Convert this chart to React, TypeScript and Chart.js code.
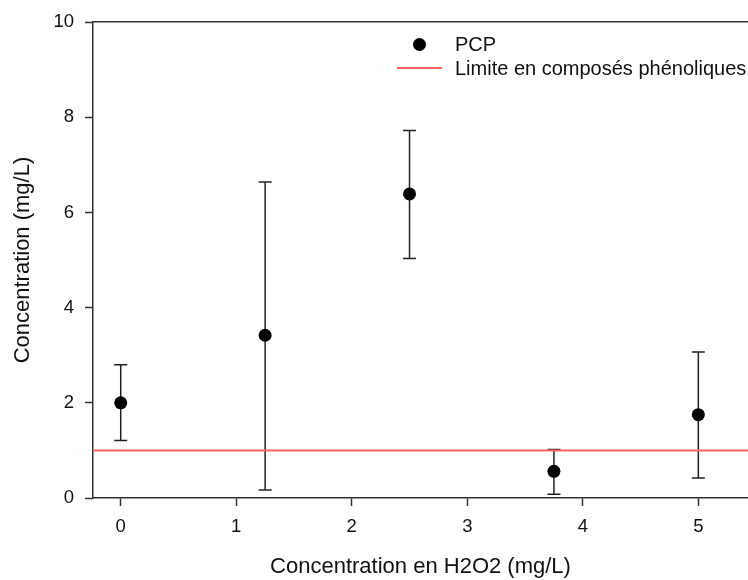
import React, { useEffect, useRef } from "react";
import { Chart, registerables } from "chart.js";

Chart.register(...registerables);

// ---- data ----
const h2o2Values = [0, 1.25, 2.5, 3.75, 5];
const pcpMeans = [2.0, 3.42, 6.39, 0.56, 1.75];
const pcpLower = [1.21, 0.17, 5.03, 0.08, 0.42];
const pcpUpper = [2.8, 6.64, 7.72, 1.02, 3.07];
const limitValue = 1;
const xTickValues = [0, 1, 2, 3, 4, 5];
const xMin = -0.24;
const xMax = 5.43;
const yMin = 0;
const yMax = 10;
const yStep = 2;
const legendLabels = ["PCP", "Limite en composés phénoliques"];

const FONT = "'Liberation Sans', Arial, sans-serif";
const AXIS_COLOR = "#333";
const RED = "#ff6262";

const errorBarPlugin = {
  id: "errorBars",
  beforeDatasetsDraw(chart: any) {
    const { ctx, scales } = chart;
    const xs = scales.x;
    const ys = scales.y;
    ctx.save();
    ctx.strokeStyle = "#222";
    ctx.lineWidth = 1.5;
    const cap = 6.5;
    for (let i = 0; i < h2o2Values.length; i++) {
      const px = xs.getPixelForValue(h2o2Values[i]);
      const pLo = ys.getPixelForValue(pcpLower[i]);
      const pHi = ys.getPixelForValue(pcpUpper[i]);
      ctx.beginPath();
      ctx.moveTo(px, pLo);
      ctx.lineTo(px, pHi);
      ctx.moveTo(px - cap, pLo);
      ctx.lineTo(px + cap, pLo);
      ctx.moveTo(px - cap, pHi);
      ctx.lineTo(px + cap, pHi);
      ctx.stroke();
    }
    ctx.restore();
  },
};

export default function App() {
  const canvasRef = useRef<HTMLCanvasElement | null>(null);

  useEffect(() => {
    if (!canvasRef.current) return;
    const chart = new Chart(canvasRef.current, {
      type: "scatter",
      data: {
        datasets: [
          {
            label: legendLabels[0],
            data: h2o2Values.map((x, i) => ({ x, y: pcpMeans[i] })),
            pointRadius: 6.5,
            pointHoverRadius: 6.5,
            pointBackgroundColor: "#000",
            pointBorderColor: "#000",
            pointBorderWidth: 0,
            showLine: false,
          },
          {
            type: "line",
            label: legendLabels[1],
            data: [
              { x: xMin, y: limitValue },
              { x: xMax, y: limitValue },
            ],
            borderColor: RED,
            borderWidth: 2,
            pointRadius: 0,
            fill: false,
          } as any,
        ],
      },
      options: {
        animation: false,
        responsive: false,
        maintainAspectRatio: false,
        layout: { autoPadding: false, padding: { top: 19, right: 0, bottom: 0, left: 0 } },
        plugins: {
          legend: { display: false },
          tooltip: { enabled: false },
        },
        scales: {
          x: {
            type: "linear",
            min: xMin,
            max: xMax,
            afterBuildTicks: (scale: any) => {
              scale.ticks = xTickValues.map((v) => ({ value: v }));
            },
            afterFit: (scale: any) => {
              scale.height = 82;
              scale.paddingLeft = 0;
              scale.paddingRight = 0;
            },
            grid: {
              display: true,
              drawOnChartArea: false,
              drawTicks: true,
              tickLength: 8,
              tickColor: AXIS_COLOR,
              tickWidth: 1.5,
            },
            border: { display: true, color: AXIS_COLOR, width: 1.5 },
            ticks: {
              color: "#111",
              font: { family: FONT, size: 18.5 },
              padding: 10,
              maxRotation: 0,
            },
            title: {
              display: true,
              text: "Concentration en H2O2 (mg/L)",
              color: "#111",
              font: { family: FONT, size: 22 },
              padding: { top: 0, bottom: 0 },
            },
          },
          x2: {
            type: "linear",
            position: "top",
            min: xMin,
            max: xMax,
            afterFit: (scale: any) => {
              scale.height = 0;
              scale.paddingLeft = 0;
              scale.paddingRight = 0;
            },
            grid: { display: false },
            ticks: { display: false },
            border: { display: true, color: AXIS_COLOR, width: 1.5 },
          },
          y: {
            type: "linear",
            min: yMin,
            max: yMax,
            ticks: {
              stepSize: yStep,
              color: "#111",
              font: { family: FONT, size: 18.5 },
              padding: 11,
            },
            afterFit: (scale: any) => {
              scale.width = 93;
            },
            grid: {
              display: true,
              drawOnChartArea: false,
              drawTicks: true,
              tickLength: 8,
              tickColor: AXIS_COLOR,
              tickWidth: 1.5,
            },
            border: { display: true, color: AXIS_COLOR, width: 1.5 },
            title: {
              display: true,
              text: "Concentration (mg/L)",
              color: "#111",
              font: { family: FONT, size: 22 },
              padding: { top: 10, bottom: 0 },
            },
          },
        },
      } as any,
      plugins: [errorBarPlugin],
    });
    return () => chart.destroy();
  }, []);

  const textStyle: React.CSSProperties = {
    position: "absolute",
    left: 455,
    fontFamily: FONT,
    fontSize: 20,
    lineHeight: "24px",
    color: "#111",
    whiteSpace: "nowrap",
  };

  return (
    <div
      style={{
        position: "absolute",
        left: 0,
        top: 0,
        width: 748,
        height: 580,
        overflow: "hidden",
        background: "#fff",
      }}
    >
      <canvas ref={canvasRef} width={748} height={580} style={{ display: "block" }} />
      <div
        style={{
          position: "absolute",
          left: 413,
          top: 38,
          width: 13,
          height: 13,
          borderRadius: "50%",
          background: "#000",
        }}
      />
      <span style={{ ...textStyle, top: 32 }}>{legendLabels[0]}</span>
      <div
        style={{
          position: "absolute",
          left: 397,
          top: 67,
          width: 45,
          height: 2,
          background: RED,
        }}
      />
      <span style={{ ...textStyle, top: 56 }}>{legendLabels[1]}</span>
    </div>
  );
}
